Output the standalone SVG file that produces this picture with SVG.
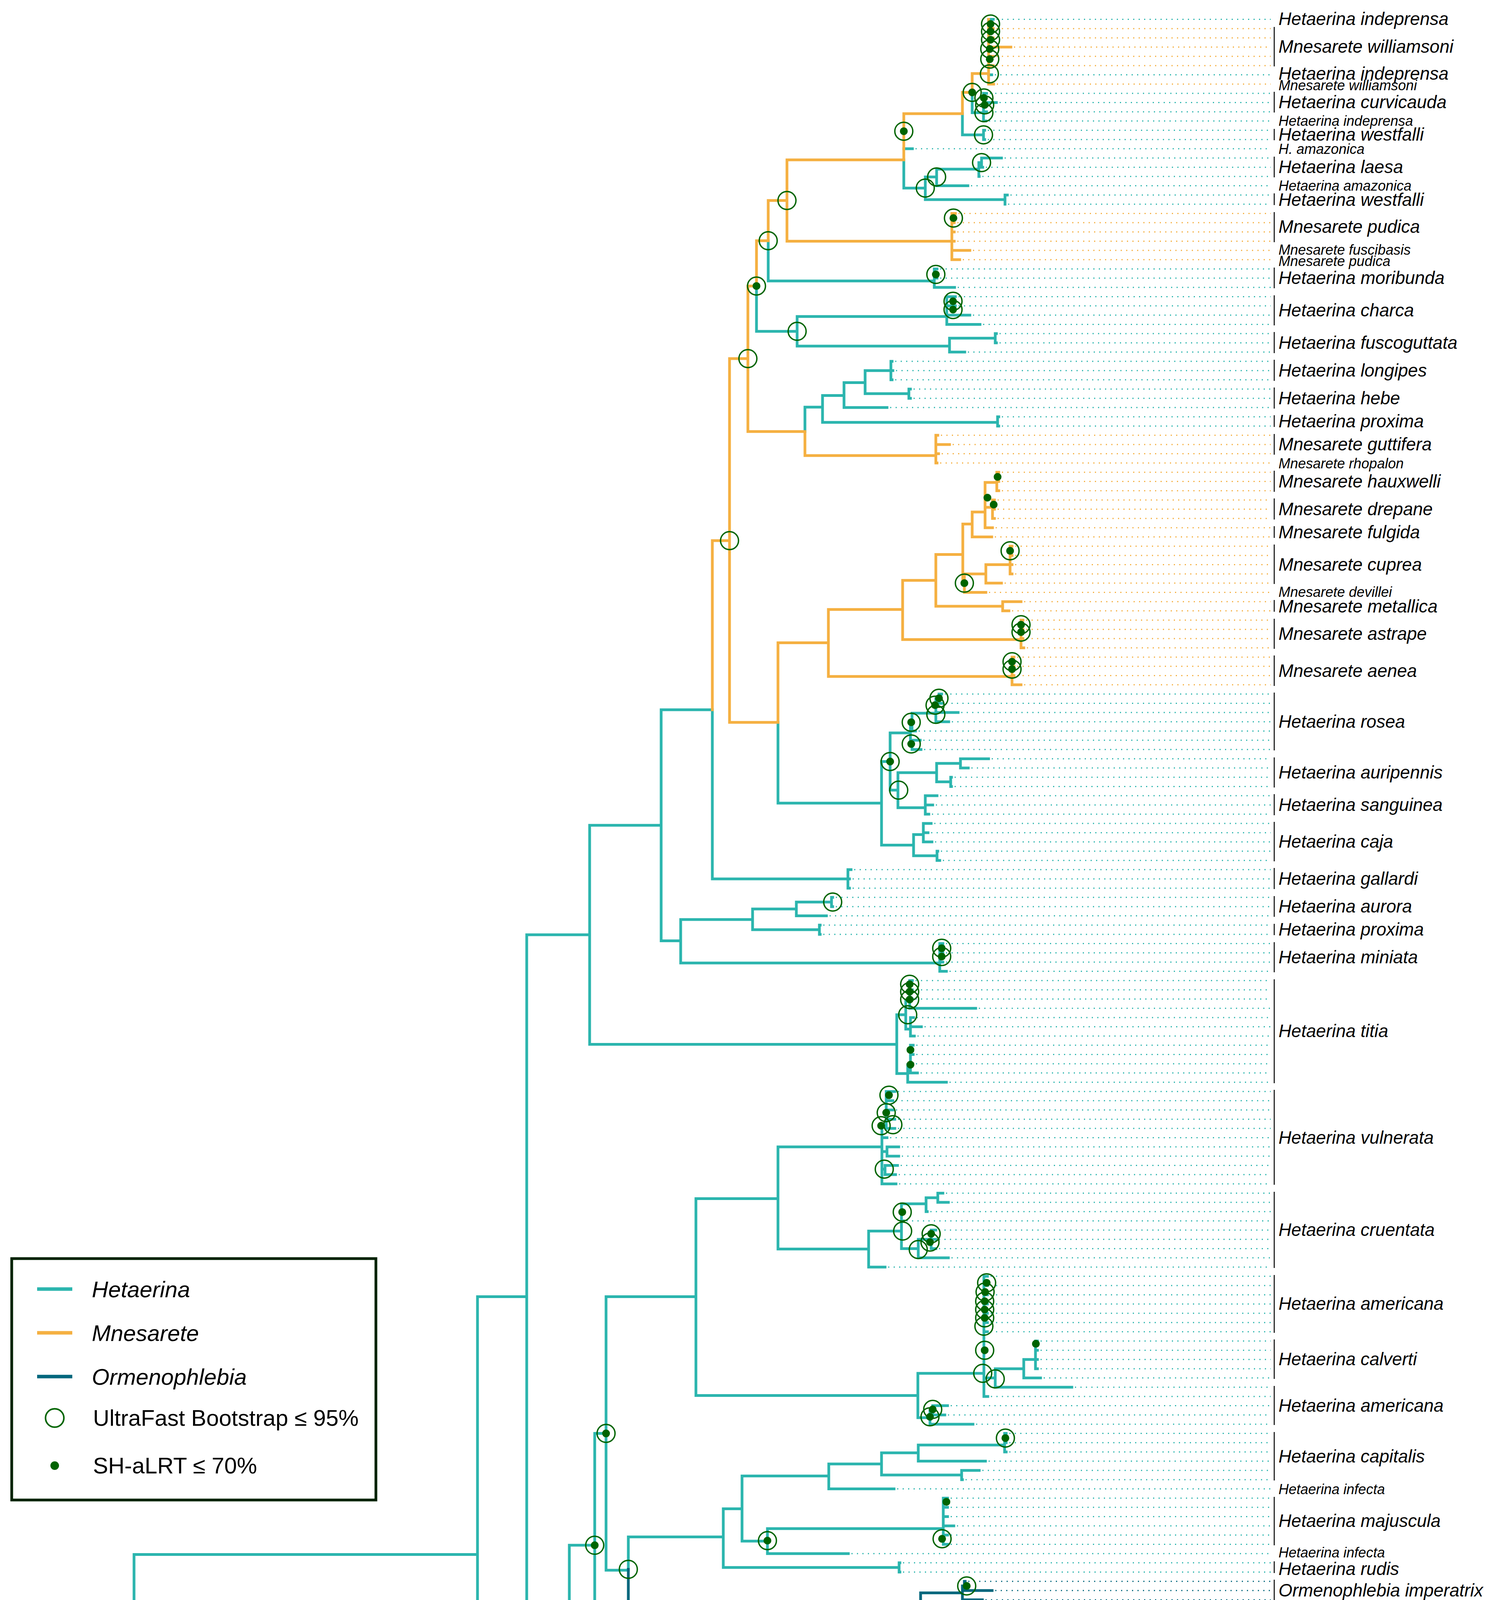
<svg xmlns="http://www.w3.org/2000/svg" width="3826" height="5133" viewBox="0 0 3826 5133">
<style>
.t,.o,.d,.k{fill:none;stroke-linecap:square;stroke-linejoin:miter;vector-effect:non-scaling-stroke}
.t{stroke:#2BB5AE;stroke-width:7}
.o{stroke:#F5B041;stroke-width:7}
.d{stroke:#03677D;stroke-width:7}
.k{stroke:#000;stroke-width:8}
.dt,.do,.dd,.dk{fill:none;stroke-width:3;stroke-dasharray:3 11;vector-effect:non-scaling-stroke}
.dt{stroke:#2BB5AE}.do{stroke:#F5B041}.dd{stroke:#03677D}.dk{stroke:#000}
.c{fill:none;stroke:#006400;stroke-width:3.5}
.c ellipse{vector-effect:non-scaling-stroke}
.p{fill:#006400}
.br{fill:none;stroke:#000;stroke-width:2.5}
text{font-family:'Liberation Sans',Arial,sans-serif;fill:#000}
.L{font-size:45.5px;font-style:italic}
.S{font-size:36px;font-style:italic}
.F{font-size:45px}
.f{font-size:31px}
.lg{font-size:58px}
</style>
<rect width="3826" height="5133" fill="#fff"/>
<g id="connectors" transform="translate(0 49.6) scale(1 23.66)">
<path class="k" d="M49 197.3V213M49 212H1060M49 213H1280M49 197.3H204M204 184.6V210.03M204 184.6H343M343 184.6V203.1M343 203.1H618M618 201.3V205M618 205H1687M618 201.3H755M755 199.3V203.25M755 199.3H1165M1165 198.1V200.5M1165 198.1H1508M1508 197.25V199M1508 199H1717M1508 197.25H1744M1744 196.5V198M1744 198H2171M1744 196.5H2033M2033 196V197M1165 200.5H1320M1320 200V201M1320 200H1962M1320 201H2139M755 203.25H895M895 202.5V204M895 204H2200M895 202.5H1499M1499 202V203M1499 202H2269M1499 203H2102M204 210.03H368M368 209.06V211M368 211H2060M368 209.06H809M809 208.1V210M809 210H1643M809 208.1H1018M1018 207.25V209M1018 209H3091M1018 207.25H1090M1090 206.5V208M1090 208H1354M1090 206.5H1116M1116 206V207M1116 206H2445M1116 207H1741"/>
<path class="t" d="M343 166.1V184.6M343 166.1H1222M1222 138.2V194.1M1222 194.1H1956M1956 192V195M1956 192H1980M1956 193H1960M1956 194H1960M1956 195H1960M1222 138.2H1348M1348 99.05V177.3M1348 99.05H1509M1509 87.2V110.9M1509 110.9H2295M1509 87.2H1692M1692 74.7V99.7M1692 74.7H1823M1823 74.7V93M1823 93H2170M2170 92V94M2170 92H2178M2170 93H2174M2170 94H2174M1692 99.7H1742M1742 97.4V102.1M1742 97.4H1926M1926 96.25V98.5M1926 98.5H2097M2097 98V99M2097 98H2099M2097 99H2099M1926 96.25H2038M2038 95.5V97M2038 97H2115M2038 95.5H2128M2128 95V96M2128 95H2131M2128 96H2131M1742 102.1H2405M2405 100V103M2405 100H2413M2405 101H2413M2405 102H2413M2405 103H2422M2295 107.7V114.06M2295 107.7H2318M2318 106.1V109.25M2318 106.1H2328M2328 104V107M2328 104H2335M2328 105H2335M2328 106H2335M2328 107H2497M2318 109.25H2330M2330 108V110M2330 108H2338M2330 109H2358M2330 110H2340M2295 114.06H2323M2323 113.1V115M2323 115H2422M2323 113.1H2330M2330 111V114M2330 111H2337M2330 112H2337M2330 113H2336M2330 114H2348M1348 177.3H1457M1457 165.1V189.2M1457 165.1H1522M1522 153V177.3M1522 153H1551M1551 138.2V167.8M1551 138.2H1781M1781 127.6V148.9M1781 127.6H1991M1991 122V133.05M1991 122H2257M2257 119.7V126M2257 119.7H2268M2268 116V120M2268 116H2290M2268 117H2285M2268 118H2285M2268 119H2290M2268 120H2290M2257 121H2270M2257 122.5H2270M2270 122V123M2270 122H2300M2270 123H2300M2257 124.4H2265M2265 124V125M2265 124H2297M2265 125H2292M2257 126H2293M1991 133.05H2223M2223 131.1V135M2223 135H2265M2223 131.1H2307M2307 128.15V133M2307 130H2312M2307 128.15H2370M2370 127.5V129M2370 129H2373M2370 127.5H2400M2400 127V128M2400 127H2413M2400 128H2427M2307 133H2350M2350 132V134M2350 134H2427M2350 132H2383M2383 131V133M2383 131H2395M2383 132H2395M2383 133H2395M1781 148.9H2349M2349 146.5V151.3M2349 146.5H2518M2518 136V149M2518 136H2527M2518 137H2527M2518 138H2527M2518 139H2527M2518 140H2527M2518 141H2527M2518 142H2527M2518 149H2528M2518 147H2547M2547 146V148M2547 148H2743M2547 146H2620M2620 145V147M2620 147H2663M2620 145H2650M2650 143V146M2650 143H2655M2650 144H2655M2650 145H2655M2650 146H2655M2349 151.3H2380M2380 150.5V152M2380 152H2490M2380 150.5H2387M2387 150V151M2387 150H2425M2387 151H2418M1551 167.8H1608M1608 164.2V167.7M1608 164.2H1851M1851 161.15V167.5M1851 167.5H2301M2301 167V168M2301 167H2303M2301 168H2303M1851 161.15H1899M1899 157.6V164.65M1899 164.65H1964M1964 163.3V166M1964 166H2171M1964 163.3H2414M2414 160V165M2414 160H2425M2414 161H2425M2414 162H2425M2414 163H2441M2414 164H2425M2414 165H2425M1899 157.6H2121M2121 156.3V159M2121 159H2288M2121 156.3H2256M2256 155.1V157.5M2256 155.1H2350M2350 154.25V156M2350 156H2522M2350 154.25H2571M2571 153V155M2571 153H2575M2571 154H2575M2571 155H2575M2256 157.5H2461M2461 157V158M2461 157H2506M2461 158H2463M1522 177.3H2176M2176 175.6V179M2176 179H2235M2176 175.6H2210M2210 174.1V178M2210 178H2225M2210 174.1H2226M2226 173V175M2226 173H2232M2226 174H2232M2226 175H2232M2210 176.5H2311M2311 176V177M2311 176H2345M2311 177H2412M1457 189.2H2240M2240 187.25V191M2240 191H2269M2240 187.25H2266M2266 185.1V189.25M2266 189.25H2395M2395 188V190M2395 188H2400M2395 189H2400M2395 190H2415M2266 185.1H2425M2425 183.6V186.5M2425 186.5H2432M2432 186V187M2432 186H2437M2432 187H2437M2425 183.6H2454M2454 181.4V185M2454 183H2468M2454 184H2468M2454 185H2471M2454 181.4H2505M2505 180V182M2505 180H2510M2505 181H2510M2505 182H2510M1991 76.06V84.8M1991 84.8H2256M2256 80.3V89.35M2256 80.3H2278M2278 77.2V83.4M2278 77.2H2330M2330 76.05V78.5M2330 76.05H2334M2334 75.07V77M2334 77H2343M2334 75.07H2395M2395 73.5V76M2395 75H2452M2395 76H2428M2395 73.5H2403M2403 73V74M2403 73H2410M2403 74H2413M2330 78.5H2334M2334 78V79M2334 78H2355M2334 79H2357M2278 83.4H2298M2298 81.5V85.3M2298 81.5H2397M2397 80.5V82.5M2397 80.5H2458M2458 80V81M2458 80H2530M2458 81H2478M2397 82.5H2433M2433 82V83M2433 82H2435M2433 83H2435M2298 85.3H2368M2368 84V86M2368 84H2398M2368 85H2387M2368 86H2377M2256 89.35H2338M2338 88.2V90.5M2338 88.2H2363M2363 87V89M2363 87H2383M2363 88H2375M2363 89H2385M2338 90.5H2398M2398 90V91M2398 90H2400M2398 91H2405M1936 28.85V33.75M1936 33.75H2040M2040 32.15V35.35M2040 32.15H2423M2423 30V33M2423 30H2445M2423 31H2445M2423 32H2482M2423 33H2508M2040 35.35H2430M2430 34.5V36M2430 36H2469M2430 34.5H2547M2547 34V35M2547 34H2550M2547 35H2550M1966 23.95V28.3M1966 28.3H2391M2391 27V29M2391 27H2398M2391 28H2398M2391 29H2443M2060 41.95V44.6M2060 41.95H2105M2105 40.7V43.6M2105 43.6H2553M2553 43V44M2553 43H2556M2553 44H2556M2105 40.7H2160M2160 39.3V42M2160 42H2270M2160 39.3H2214M2214 38V40.5M2214 38H2280M2280 37V39M2280 37H2283M2280 38H2285M2280 39H2283M2214 40.5H2326M2326 40V41M2326 40H2330M2326 41H2330M2313 15.2V18.25M2313 14H2335M2313 18.25H2368M2368 17.05V19.5M2368 19.5H2572M2572 19V20M2572 19H2578M2572 20H2572M2368 17.05H2397M2397 16.2V18M2397 18H2477M2397 16.2H2505M2505 15.5V17M2505 17H2506M2505 15.5H2512M2512 15V16M2512 15H2563M2512 16H2515M2463 10.2V12.5M2463 12.5H2517M2517 12V13M2517 12H2520M2517 13H2520M2488 7.9V10.1M2488 10.1H2517M2517 8V11M2517 8H2525M2517 9H2550M2517 10H2525M2517 11H2523M2530 0H2542M2530 6H2538"/>
<path class="o" d="M1823 56.4V74.7M1823 56.4H1867M1867 36.7V76.06M1867 76.06H1991M1991 67.45V76.06M1991 67.45H2120M2120 63.85V71.1M2120 71.1H2590M2590 69V72M2590 69H2595M2590 70H2595M2590 71H2595M2590 72H2613M2120 63.85H2310M2310 60.7V67.1M2310 67.1H2613M2613 65V68M2613 65H2618M2613 66H2618M2613 67H2618M2613 68H2620M2310 60.7H2395M2395 57.9V63.5M2395 63.5H2566M2566 63V64M2566 63H2613M2566 64H2582M2395 57.9H2464M2464 54.6V61M2464 61H2468M2468 60V62M2468 62H2523M2468 60H2523M2523 59V61M2523 61H2563M2523 59H2585M2585 57V60M2585 57H2590M2585 58H2590M2585 59H2590M2585 60H2590M2464 54.6H2488M2488 53.3V56M2488 56H2538M2488 53.3H2521M2521 50.1V55M2521 55H2540M2521 50.1H2551M2551 49V51M2551 49H2556M2551 50H2556M2551 51H2556M2521 52.8H2540M2540 52V54M2540 52H2545M2540 53H2545M2540 54H2545M1867 36.7H1914M1914 28.85V44.6M1914 44.6H2060M2060 44.6V47.2M2060 47.2H2395M2395 45V48M2395 45H2400M2395 46H2430M2395 47H2402M2395 48H2398M1914 28.85H1936M1936 23.95V28.85M1936 23.95H1966M1966 19.6V23.95M1966 19.6H2014M2014 15.2V24M2014 24H2436M2436 21V26M2436 21H2445M2436 22H2442M2436 23H2442M2436 24H2442M2436 25H2482M2436 26H2456M2014 15.2H2313M2313 10.2V15.2M2313 10.2H2463M2463 7.9V10.2M2463 7.9H2488M2488 5.86V7.9M2488 5.86H2530M2530 0V7M2530 1H2542M2530 2H2542M2530 3H2587M2530 4H2542M2530 5H2542M2530 7H2543"/>
<path class="d" d="M1608 167.7V171.2M1608 171.2H2356M2356 170.25V172M2356 172H2446M2356 170.25H2463M2463 169.5V171M2463 171H2514M2463 169.5H2468M2468 169V170M2468 169H2470M2468 170H2539"/>
<path class="dt" d="M2550 0H3252M2546 6H3252M2533 8H3252M2558 9H3252M2533 10H3252M2531 11H3252M2528 12H3252M2528 13H3252M2343 14H3252M2571 15H3252M2523 16H3252M2514 17H3252M2485 18H3252M2586 19H3252M2580 20H3252M2406 27H3252M2406 28H3252M2451 29H3252M2453 30H3252M2453 31H3252M2490 32H3252M2516 33H3252M2558 34H3252M2558 35H3252M2477 36H3252M2291 37H3252M2293 38H3252M2291 39H3252M2338 40H3252M2338 41H3252M2278 42H3252M2564 43H3252M2564 44H3252M2418 73H3252M2421 74H3252M2460 75H3252M2436 76H3252M2351 77H3252M2363 78H3252M2365 79H3252M2538 80H3252M2486 81H3252M2443 82H3252M2443 83H3252M2406 84H3252M2395 85H3252M2385 86H3252M2391 87H3252M2383 88H3252M2393 89H3252M2408 90H3252M2413 91H3252M2186 92H3252M2182 93H3252M2182 94H3252M2139 95H3252M2139 96H3252M2123 97H3252M2107 98H3252M2107 99H3252M2421 100H3252M2421 101H3252M2421 102H3252M2430 103H3252M2343 104H3252M2343 105H3252M2343 106H3252M2505 107H3252M2346 108H3252M2366 109H3252M2348 110H3252M2345 111H3252M2345 112H3252M2344 113H3252M2356 114H3252M2430 115H3252M2298 116H3252M2293 117H3252M2293 118H3252M2298 119H3252M2298 120H3252M2278 121H3252M2308 122H3252M2308 123H3252M2305 124H3252M2300 125H3252M2301 126H3252M2421 127H3252M2435 128H3252M2381 129H3252M2320 130H3252M2403 131H3252M2403 132H3252M2403 133H3252M2435 134H3252M2273 135H3252M2535 136H3252M2535 137H3252M2535 138H3252M2535 139H3252M2535 140H3252M2535 141H3252M2535 142H3252M2663 143H3252M2663 144H3252M2663 145H3252M2663 146H3252M2671 147H3252M2751 148H3252M2536 149H3252M2433 150H3252M2426 151H3252M2498 152H3252M2583 153H3252M2583 154H3252M2583 155H3252M2530 156H3252M2514 157H3252M2471 158H3252M2296 159H3252M2433 160H3252M2433 161H3252M2433 162H3252M2449 163H3252M2433 164H3252M2433 165H3252M2179 166H3252M2311 167H3252M2311 168H3252M2240 173H3252M2240 174H3252M2240 175H3252M2353 176H3252M2420 177H3252M2233 178H3252M2243 179H3252M2518 180H3252M2518 181H3252M2518 182H3252M2476 183H3252M2476 184H3252M2479 185H3252M2445 186H3252M2445 187H3252M2408 188H3252M2408 189H3252M2423 190H3252M2277 191H3252M1988 192H3252M1966 193H3252M1966 194H3252M1966 195H3252"/>
<path class="do" d="M2550 1H3252M2550 2H3252M2595 3H3252M2550 4H3252M2550 5H3252M2551 7H3252M2453 21H3252M2450 22H3252M2450 23H3252M2450 24H3252M2490 25H3252M2464 26H3252M2408 45H3252M2438 46H3252M2410 47H3252M2406 48H3252M2564 49H3252M2564 50H3252M2564 51H3252M2553 52H3252M2553 53H3252M2553 54H3252M2548 55H3252M2546 56H3252M2598 57H3252M2598 58H3252M2598 59H3252M2598 60H3252M2571 61H3252M2531 62H3252M2621 63H3252M2590 64H3252M2626 65H3252M2626 66H3252M2626 67H3252M2628 68H3252M2603 69H3252M2603 70H3252M2603 71H3252M2621 72H3252"/>
<path class="dd" d="M2478 169H3252M2547 170H3252M2522 171H3252M2454 172H3252"/>
<path class="dk" d="M2041 196H3252M2041 197H3252M2179 198H3252M1725 199H3252M1970 200H3252M2147 201H3252M2277 202H3252M2110 203H3252M2208 204H3252M1695 205H3252M2453 206H3252M1749 207H3252M1362 208H3252M3099 209H3252M1651 210H3252M2068 211H3252M1068 212H3252M1288 213H3252"/>
</g>
<g id="support" transform="translate(0 49.6) scale(1 23.66)">
<g id="sh-alrt" class="p">
<ellipse cx="2535" cy="0.5" rx="10" ry="0.423"/><ellipse cx="2535" cy="1.3" rx="10" ry="0.423"/><ellipse cx="2535" cy="2.2" rx="10" ry="0.423"/><ellipse cx="2533" cy="3.2" rx="10" ry="0.423"/><ellipse cx="2533" cy="4.3" rx="10" ry="0.423"/><ellipse cx="2488" cy="7.9" rx="10" ry="0.423"/><ellipse cx="2518" cy="8.5" rx="10" ry="0.423"/><ellipse cx="2520" cy="9.25" rx="10" ry="0.423"/><ellipse cx="2313" cy="12.1" rx="10" ry="0.423"/><ellipse cx="2440" cy="21.5" rx="10" ry="0.423"/><ellipse cx="1936" cy="28.85" rx="10" ry="0.423"/><ellipse cx="2395" cy="27.6" rx="10" ry="0.423"/><ellipse cx="2439" cy="30.5" rx="10" ry="0.423"/><ellipse cx="2439" cy="31.4" rx="10" ry="0.423"/><ellipse cx="2585" cy="57.5" rx="10" ry="0.423"/><ellipse cx="2468" cy="61" rx="10" ry="0.423"/><ellipse cx="2613" cy="65.5" rx="10" ry="0.423"/><ellipse cx="2613" cy="66.3" rx="10" ry="0.423"/><ellipse cx="2590" cy="69.5" rx="10" ry="0.423"/><ellipse cx="2590" cy="70.3" rx="10" ry="0.423"/><ellipse cx="2403" cy="73.45" rx="10" ry="0.423"/><ellipse cx="2393" cy="74.2" rx="10" ry="0.423"/><ellipse cx="2332" cy="76.05" rx="10" ry="0.423"/><ellipse cx="2332" cy="78.4" rx="10" ry="0.423"/><ellipse cx="2278" cy="80.3" rx="10" ry="0.423"/><ellipse cx="2410" cy="100.5" rx="10" ry="0.423"/><ellipse cx="2410" cy="101.4" rx="10" ry="0.423"/><ellipse cx="2328" cy="104.4" rx="10" ry="0.423"/><ellipse cx="2328" cy="105.2" rx="10" ry="0.423"/><ellipse cx="2328" cy="106.05" rx="10" ry="0.423"/><ellipse cx="2275" cy="116.4" rx="10" ry="0.423"/><ellipse cx="2268" cy="118.3" rx="10" ry="0.423"/><ellipse cx="2255" cy="119.7" rx="10" ry="0.423"/><ellipse cx="2309" cy="129.05" rx="10" ry="0.423"/><ellipse cx="2383" cy="131.4" rx="10" ry="0.423"/><ellipse cx="2380" cy="132.3" rx="10" ry="0.423"/><ellipse cx="2525" cy="136.7" rx="10" ry="0.423"/><ellipse cx="2521" cy="137.7" rx="10" ry="0.423"/><ellipse cx="2520" cy="138.7" rx="10" ry="0.423"/><ellipse cx="2520" cy="139.6" rx="10" ry="0.423"/><ellipse cx="2520" cy="140.5" rx="10" ry="0.423"/><ellipse cx="2520" cy="144" rx="10" ry="0.423"/><ellipse cx="2387" cy="150.4" rx="10" ry="0.423"/><ellipse cx="2380" cy="151.2" rx="10" ry="0.423"/><ellipse cx="1551" cy="153" rx="10" ry="0.423"/><ellipse cx="2573" cy="153.5" rx="10" ry="0.423"/><ellipse cx="1964" cy="164.6" rx="10" ry="0.423"/><ellipse cx="2411" cy="164.4" rx="10" ry="0.423"/><ellipse cx="1522" cy="165.1" rx="10" ry="0.423"/><ellipse cx="2474" cy="169.5" rx="10" ry="0.423"/><ellipse cx="2228" cy="173.6" rx="10" ry="0.423"/><ellipse cx="2228" cy="174.6" rx="10" ry="0.423"/><ellipse cx="2266" cy="187.25" rx="10" ry="0.423"/><ellipse cx="2432" cy="186.4" rx="10" ry="0.423"/><ellipse cx="2459" cy="182.7" rx="10" ry="0.423"/><ellipse cx="1954" cy="193.25" rx="10" ry="0.423"/><ellipse cx="1090" cy="207.2" rx="10" ry="0.423"/><ellipse cx="1116" cy="206.5" rx="10" ry="0.423"/>
<ellipse cx="2553" cy="49.5" rx="10" ry="0.423"/><ellipse cx="2527" cy="51.75" rx="10" ry="0.423"/><ellipse cx="2543" cy="52.5" rx="10" ry="0.423"/><ellipse cx="2330" cy="111.5" rx="10" ry="0.423"/><ellipse cx="2330" cy="113.1" rx="10" ry="0.423"/><ellipse cx="2651" cy="143.3" rx="10" ry="0.423"/><ellipse cx="2422" cy="160.4" rx="10" ry="0.423"/><ellipse cx="2500" cy="182.4" rx="10" ry="0.423"/><ellipse cx="895" cy="203.25" rx="10" ry="0.423"/><ellipse cx="1018" cy="208.1" rx="10" ry="0.423"/>
</g>
<g id="ufboot" class="c">
<ellipse cx="2535" cy="0.5" rx="23" ry="0.972"/><ellipse cx="2535" cy="1.3" rx="23" ry="0.972"/><ellipse cx="2535" cy="2.2" rx="23" ry="0.972"/><ellipse cx="2533" cy="3.2" rx="23" ry="0.972"/><ellipse cx="2533" cy="4.3" rx="23" ry="0.972"/><ellipse cx="2488" cy="7.9" rx="23" ry="0.972"/><ellipse cx="2518" cy="8.5" rx="23" ry="0.972"/><ellipse cx="2520" cy="9.25" rx="23" ry="0.972"/><ellipse cx="2313" cy="12.1" rx="23" ry="0.972"/><ellipse cx="2440" cy="21.5" rx="23" ry="0.972"/><ellipse cx="1936" cy="28.85" rx="23" ry="0.972"/><ellipse cx="2395" cy="27.6" rx="23" ry="0.972"/><ellipse cx="2439" cy="30.5" rx="23" ry="0.972"/><ellipse cx="2439" cy="31.4" rx="23" ry="0.972"/><ellipse cx="2585" cy="57.5" rx="23" ry="0.972"/><ellipse cx="2468" cy="61" rx="23" ry="0.972"/><ellipse cx="2613" cy="65.5" rx="23" ry="0.972"/><ellipse cx="2613" cy="66.3" rx="23" ry="0.972"/><ellipse cx="2590" cy="69.5" rx="23" ry="0.972"/><ellipse cx="2590" cy="70.3" rx="23" ry="0.972"/><ellipse cx="2403" cy="73.45" rx="23" ry="0.972"/><ellipse cx="2393" cy="74.2" rx="23" ry="0.972"/><ellipse cx="2332" cy="76.05" rx="23" ry="0.972"/><ellipse cx="2332" cy="78.4" rx="23" ry="0.972"/><ellipse cx="2278" cy="80.3" rx="23" ry="0.972"/><ellipse cx="2410" cy="100.5" rx="23" ry="0.972"/><ellipse cx="2410" cy="101.4" rx="23" ry="0.972"/><ellipse cx="2328" cy="104.4" rx="23" ry="0.972"/><ellipse cx="2328" cy="105.2" rx="23" ry="0.972"/><ellipse cx="2328" cy="106.05" rx="23" ry="0.972"/><ellipse cx="2275" cy="116.4" rx="23" ry="0.972"/><ellipse cx="2268" cy="118.3" rx="23" ry="0.972"/><ellipse cx="2255" cy="119.7" rx="23" ry="0.972"/><ellipse cx="2309" cy="129.05" rx="23" ry="0.972"/><ellipse cx="2383" cy="131.4" rx="23" ry="0.972"/><ellipse cx="2380" cy="132.3" rx="23" ry="0.972"/><ellipse cx="2525" cy="136.7" rx="23" ry="0.972"/><ellipse cx="2521" cy="137.7" rx="23" ry="0.972"/><ellipse cx="2520" cy="138.7" rx="23" ry="0.972"/><ellipse cx="2520" cy="139.6" rx="23" ry="0.972"/><ellipse cx="2520" cy="140.5" rx="23" ry="0.972"/><ellipse cx="2520" cy="144" rx="23" ry="0.972"/><ellipse cx="2387" cy="150.4" rx="23" ry="0.972"/><ellipse cx="2380" cy="151.2" rx="23" ry="0.972"/><ellipse cx="1551" cy="153" rx="23" ry="0.972"/><ellipse cx="2573" cy="153.5" rx="23" ry="0.972"/><ellipse cx="1964" cy="164.6" rx="23" ry="0.972"/><ellipse cx="2411" cy="164.4" rx="23" ry="0.972"/><ellipse cx="1522" cy="165.1" rx="23" ry="0.972"/><ellipse cx="2474" cy="169.5" rx="23" ry="0.972"/><ellipse cx="2228" cy="173.6" rx="23" ry="0.972"/><ellipse cx="2228" cy="174.6" rx="23" ry="0.972"/><ellipse cx="2266" cy="187.25" rx="23" ry="0.972"/><ellipse cx="2432" cy="186.4" rx="23" ry="0.972"/><ellipse cx="2459" cy="182.7" rx="23" ry="0.972"/><ellipse cx="1954" cy="193.25" rx="23" ry="0.972"/><ellipse cx="1090" cy="207.2" rx="23" ry="0.972"/><ellipse cx="1116" cy="206.5" rx="23" ry="0.972"/>
<ellipse cx="2532" cy="5.9" rx="23" ry="0.972"/><ellipse cx="2518" cy="10.1" rx="23" ry="0.972"/><ellipse cx="2517" cy="12.5" rx="23" ry="0.972"/><ellipse cx="2512" cy="15.5" rx="23" ry="0.972"/><ellipse cx="2397" cy="17.05" rx="23" ry="0.972"/><ellipse cx="2368" cy="18.25" rx="23" ry="0.972"/><ellipse cx="2014" cy="19.6" rx="23" ry="0.972"/><ellipse cx="1966" cy="23.95" rx="23" ry="0.972"/><ellipse cx="2040" cy="33.75" rx="23" ry="0.972"/><ellipse cx="1914" cy="36.7" rx="23" ry="0.972"/><ellipse cx="1867" cy="56.4" rx="23" ry="0.972"/><ellipse cx="2395" cy="75.2" rx="23" ry="0.972"/><ellipse cx="2300" cy="83.4" rx="23" ry="0.972"/><ellipse cx="2131" cy="95.5" rx="23" ry="0.972"/><ellipse cx="2323" cy="107.7" rx="23" ry="0.972"/><ellipse cx="2285" cy="119.6" rx="23" ry="0.972"/><ellipse cx="2263" cy="124.4" rx="23" ry="0.972"/><ellipse cx="2310" cy="131.1" rx="23" ry="0.972"/><ellipse cx="2350" cy="133.1" rx="23" ry="0.972"/><ellipse cx="2518" cy="141.4" rx="23" ry="0.972"/><ellipse cx="2515" cy="146.5" rx="23" ry="0.972"/><ellipse cx="2547" cy="147.1" rx="23" ry="0.972"/><ellipse cx="1608" cy="167.7" rx="23" ry="0.972"/><ellipse cx="2212" cy="175.7" rx="23" ry="0.972"/><ellipse cx="2218" cy="177.3" rx="23" ry="0.972"/><ellipse cx="2311" cy="176.5" rx="23" ry="0.972"/>
</g>
</g>
<g id="labels">
<g id="n00"><text class="L" x="3272" y="64">Hetaerina indeprensa</text></g>
<g id="n01"><path class="br" d="M3261 69V170"/><text class="L" x="3272" y="135">Mnesarete williamsoni</text></g>
<g id="n02"><text class="L" x="3272" y="204">Hetaerina indeprensa</text></g>
<g id="n03"><text class="S" x="3272" y="231">Mnesarete williamsoni</text></g>
<g id="n04"><path class="br" d="M3261 235V288"/><text class="L" x="3272" y="277">Hetaerina curvicauda</text></g>
<g id="n05"><text class="S" x="3272" y="322">Hetaerina indeprensa</text></g>
<g id="n06"><path class="br" d="M3261 330V359"/><text class="L" x="3272" y="360">Hetaerina westfalli</text></g>
<g id="n07"><text class="S" x="3272" y="394">H. amazonica</text></g>
<g id="n08"><path class="br" d="M3261 401V454"/><text class="L" x="3272" y="443">Hetaerina laesa</text></g>
<g id="n09"><text class="S" x="3272" y="488">Hetaerina amazonica</text></g>
<g id="n10"><path class="br" d="M3261 495V525"/><text class="L" x="3272" y="527">Hetaerina westfalli</text></g>
<g id="n11"><path class="br" d="M3261 543V620"/><text class="L" x="3272" y="596">Mnesarete pudica</text></g>
<g id="n12"><text class="S" x="3272" y="652">Mnesarete fuscibasis</text></g>
<g id="n13"><text class="S" x="3272" y="681">Mnesarete pudica</text></g>
<g id="n14"><path class="br" d="M3261 685V738"/><text class="L" x="3272" y="727">Hetaerina moribunda</text></g>
<g id="n15"><path class="br" d="M3261 756V833"/><text class="L" x="3272" y="810">Hetaerina charca</text></g>
<g id="n16"><path class="br" d="M3261 850V904"/><text class="L" x="3272" y="893">Hetaerina fuscoguttata</text></g>
<g id="n17"><path class="br" d="M3261 921V975"/><text class="L" x="3272" y="964">Hetaerina longipes</text></g>
<g id="n18"><path class="br" d="M3261 992V1046"/><text class="L" x="3272" y="1035">Hetaerina hebe</text></g>
<g id="n19"><path class="br" d="M3261 1063V1093"/><text class="L" x="3272" y="1094">Hetaerina proxima</text></g>
<g id="n20"><path class="br" d="M3261 1111V1164"/><text class="L" x="3272" y="1153">Mnesarete guttifera</text></g>
<g id="n21"><text class="S" x="3272" y="1199">Mnesarete rhopalon</text></g>
<g id="n22"><path class="br" d="M3261 1205V1259"/><text class="L" x="3272" y="1248">Mnesarete hauxwelli</text></g>
<g id="n23"><path class="br" d="M3261 1276V1330"/><text class="L" x="3272" y="1319">Mnesarete drepane</text></g>
<g id="n24"><path class="br" d="M3261 1347V1377"/><text class="L" x="3272" y="1378">Mnesarete fulgida</text></g>
<g id="n25"><path class="br" d="M3261 1394V1495"/><text class="L" x="3272" y="1461">Mnesarete cuprea</text></g>
<g id="n26"><text class="S" x="3272" y="1528">Mnesarete devillei</text></g>
<g id="n27"><path class="br" d="M3261 1536V1566"/><text class="L" x="3272" y="1568">Mnesarete metallica</text></g>
<g id="n28"><path class="br" d="M3261 1584V1661"/><text class="L" x="3272" y="1638">Mnesarete astrape</text></g>
<g id="n29"><path class="br" d="M3261 1678V1756"/><text class="L" x="3272" y="1733">Mnesarete aenea</text></g>
<g id="n30"><path class="br" d="M3261 1773V1921"/><text class="L" x="3272" y="1863">Hetaerina rosea</text></g>
<g id="n31"><path class="br" d="M3261 1939V2016"/><text class="L" x="3272" y="1993">Hetaerina auripennis</text></g>
<g id="n32"><path class="br" d="M3261 2033V2087"/><text class="L" x="3272" y="2076">Hetaerina sanguinea</text></g>
<g id="n33"><path class="br" d="M3261 2104V2205"/><text class="L" x="3272" y="2170">Hetaerina caja</text></g>
<g id="n34"><path class="br" d="M3261 2222V2276"/><text class="L" x="3272" y="2265">Hetaerina gallardi</text></g>
<g id="n35"><path class="br" d="M3261 2294V2347"/><text class="L" x="3272" y="2336">Hetaerina aurora</text></g>
<g id="n36"><path class="br" d="M3261 2365V2394"/><text class="L" x="3272" y="2395">Hetaerina proxima</text></g>
<g id="n37"><path class="br" d="M3261 2412V2489"/><text class="L" x="3272" y="2466">Hetaerina miniata</text></g>
<g id="n38"><path class="br" d="M3261 2507V2773"/><text class="L" x="3272" y="2655">Hetaerina titia</text></g>
<g id="n39"><path class="br" d="M3261 2790V3033"/><text class="L" x="3272" y="2928">Hetaerina vulnerata</text></g>
<g id="n40"><path class="br" d="M3261 3051V3246"/><text class="L" x="3272" y="3164">Hetaerina cruentata</text></g>
<g id="n41"><path class="br" d="M3261 3264V3412"/><text class="L" x="3272" y="3353">Hetaerina americana</text></g>
<g id="n42"><path class="br" d="M3261 3429V3530"/><text class="L" x="3272" y="3495">Hetaerina calverti</text></g>
<g id="n43"><path class="br" d="M3261 3548V3648"/><text class="L" x="3272" y="3614">Hetaerina americana</text></g>
<g id="n44"><path class="br" d="M3261 3666V3790"/><text class="L" x="3272" y="3744">Hetaerina capitalis</text></g>
<g id="n45"><text class="S" x="3272" y="3825">Hetaerina infecta</text></g>
<g id="n46"><path class="br" d="M3261 3832V3956"/><text class="L" x="3272" y="3909">Hetaerina majuscula</text></g>
<g id="n47"><text class="S" x="3272" y="3987">Hetaerina infecta</text></g>
<g id="n48"><path class="br" d="M3261 3997V4027"/><text class="L" x="3272" y="4032">Hetaerina rudis</text></g>
<g id="n49"><path class="br" d="M3261 4044V4098"/><text class="L" x="3272" y="4087">Ormenophlebia imperatrix</text></g>
<g id="n50"><text class="S" x="3272" y="4133">Ormenophlebia saltuum</text></g>
<g id="n51"><path class="br" d="M3261 4139V4287"/><text class="L" x="3272" y="4229">Hetaerina sempronia</text></g>
<g id="n52"><path class="br" d="M3261 4305V4571"/><text class="L" x="3272" y="4454">Hetaerina occisa</text></g>
<g id="n53"><path class="br" d="M3261 4589V4666"/><text class="L" x="3272" y="4643">Hetaerina pilula</text></g>
<g id="n54"><path class="br" d="M3261 4683V4902"/><text class="F" x="3272" y="4808">Calopterygidae</text></g>
<g id="n55"><path class="br" d="M3261 4920V5021"/><text class="F" x="3272" y="4986">Chlorocyphidae</text></g>
<g id="n56"><text class="f" x="3272" y="5052">Euphaeidae</text></g>
<g id="n57"><text class="f" x="3272" y="5076">Philogangidae</text></g>
<g id="n58"><text class="f" x="3272" y="5100">Platycnemididae</text></g>
</g>
<g id="legend">
<rect x="30" y="3222" width="932" height="618" fill="#fff" stroke="#002200" stroke-width="7"/>
<path d="M95 3300H185" stroke="#2BB5AE" stroke-width="9"/>
<path d="M95 3412H185" stroke="#F5B041" stroke-width="9"/>
<path d="M95 3524H185" stroke="#03677D" stroke-width="9"/>
<circle cx="140" cy="3630" r="23.5" fill="none" stroke="#006400" stroke-width="4"/>
<circle cx="140" cy="3752" r="11" fill="#006400"/>
<text class="lg" x="235" y="3321" font-style="italic">Hetaerina</text>
<text class="lg" x="235" y="3433" font-style="italic">Mnesarete</text>
<text class="lg" x="235" y="3545" font-style="italic">Ormenophlebia</text>
<text class="lg" x="238" y="3650">UltraFast Bootstrap ≤ 95%</text>
<text class="lg" x="238" y="3772">SH-aLRT ≤ 70%</text>
</g>
</svg>
